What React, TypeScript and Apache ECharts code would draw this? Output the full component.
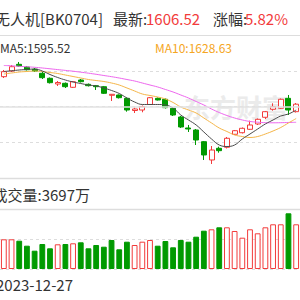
import React, { useEffect, useRef } from "react";
import * as echarts from "echarts";

const dates = ['2023-12-27','2023-12-28','2023-12-29','2024-01-02','2024-01-03','2024-01-04','2024-01-05','2024-01-08','2024-01-09','2024-01-10','2024-01-11','2024-01-12','2024-01-15','2024-01-16','2024-01-17','2024-01-18','2024-01-19','2024-01-22','2024-01-23','2024-01-24','2024-01-25','2024-01-26','2024-01-29','2024-01-30','2024-01-31','2024-02-01','2024-02-02','2024-02-05','2024-02-06','2024-02-07','2024-02-08','2024-02-19','2024-02-20','2024-02-21','2024-02-22','2024-02-23','2024-02-26','2024-02-27','2024-02-28'];

const open = [1683.4,1699.3,1718.0,1710.5,1704.1,1692.9,1678.9,1662.9,1664.9,1653.7,1674.1,1662.1,1658.2,1655.4,1631.3,1632.2,1622.9,1588.8,1590.2,1605.6,1622.9,1620.2,1595.0,1570.6,1539.9,1534.3,1501.6,1450.4,1483.1,1485.9,1522.3,1526.7,1536.2,1551.1,1569.8,1592.2,1595.0,1622.9,1585.5];
const close = [1697.4,1711.3,1713.3,1702.9,1699.3,1680.6,1666.6,1667.1,1655.4,1669.4,1669.4,1658.2,1655.4,1636.9,1634.1,1624.6,1590.2,1593.0,1599.5,1624.6,1618.2,1596.7,1576.2,1542.7,1537.1,1506.3,1464.4,1478.3,1476.4,1511.1,1532.3,1539.0,1548.3,1564.2,1585.5,1599.5,1620.2,1590.2,1606.5];
const low = [1679.7,1696.5,1710.5,1700.7,1696.5,1676.9,1664.3,1657.4,1651.8,1651.8,1667.1,1656.0,1646.2,1635.0,1615.4,1622.4,1585.5,1581.8,1583.8,1604.2,1616.8,1594.4,1573.4,1539.9,1528.7,1492.3,1450.4,1439.2,1470.8,1482.6,1520.3,1524.5,1534.3,1548.3,1565.1,1588.3,1593.0,1576.2,1583.2];
const high = [1702.1,1716.1,1724.5,1713.3,1707.7,1696.5,1681.1,1671.3,1667.1,1671.3,1676.9,1664.3,1660.2,1657.4,1635.0,1633.6,1625.2,1597.2,1602.8,1626.6,1625.2,1622.4,1597.2,1573.4,1548.3,1537.1,1503.5,1489.5,1487.6,1514.7,1534.3,1541.3,1560.3,1566.5,1587.4,1609.0,1622.4,1632.2,1609.8];

const ma5 = [1697.9,1699.9,1702.1,1703.5,1704.9,1699.3,1689.5,1681.1,1674.1,1668.5,1664.3,1660.1,1657.4,1651.8,1644.8,1636.4,1623.8,1612.6,1605.6,1605.6,1605.6,1604.2,1595.8,1576.2,1562.3,1548.3,1528.7,1509.1,1492.3,1488.1,1492.3,1509.1,1523.1,1537.1,1551.1,1562.3,1573.4,1579.0,1590.2];
const ma10 = [1690.9,1693.7,1696.5,1697.9,1699.3,1697.9,1695.1,1692.3,1688.1,1683.9,1679.7,1675.5,1672.7,1669.9,1665.7,1660.1,1651.8,1643.4,1635.0,1630.8,1626.6,1621.0,1611.2,1598.6,1590.2,1581.8,1567.8,1553.9,1539.9,1530.1,1520.3,1516.1,1513.3,1516.1,1523.1,1531.5,1541.3,1553.9,1566.4];
const ma20 = [1714.7,1713.9,1712.5,1711.1,1709.7,1707.7,1705.5,1703.2,1701.0,1698.7,1696.0,1693.2,1690.1,1686.7,1683.4,1679.7,1675.5,1671.3,1665.7,1660.1,1654.6,1647.6,1640.6,1632.2,1623.8,1614.0,1604.2,1593.0,1583.2,1574.8,1567.8,1562.3,1558.1,1556.1,1554.7,1554.4,1554.7,1555.3,1555.8];

// volume in 万
const volume = [3960,3960,3773,3107,2440,3333,2760,3293,3333,3427,3560,2760,3200,2973,3867,2627,3640,3200,3640,3867,3107,3733,2893,3867,3640,4307,5107,5293,5560,5560,5067,4173,5293,4760,5560,5960,5960,7427,5960];
const volUp = [1,1,0,0,0,0,0,1,0,1,0,0,0,0,0,0,0,1,1,1,0,0,0,0,0,0,0,1,0,1,1,1,1,1,1,1,1,0,1];

const priceTicks = { min: 1400, max: 1800, interval: 100 };
const volTicks = { min: 0, max: 8000, interval: 4000 };

const RED = "#f23b3b";
const GREEN = "#009a00";
const FONT = "Noto Sans CJK SC";

export default function App() {
  const ref = useRef<HTMLDivElement>(null);
  useEffect(() => {
    if (!ref.current) return;
    const chart = echarts.init(ref.current, undefined, { renderer: "svg" });
    const candles = dates.map((_, i) => [open[i], close[i], low[i], high[i]]);
    const vols = volume.map((v, i) => ({
      value: v,
      itemStyle: volUp[i]
        ? { color: "#ffffff", borderColor: RED, borderWidth: 1 }
        : { color: GREEN, borderColor: GREEN, borderWidth: 1 },
    }));
    const txt = (text: string, x: number, y: number, size: number, fill: string, align = "left") => ({
      type: "text",
      x,
      y,
      silent: true,
      style: { text, font: `${size}px "${FONT}"`, fill, align, verticalAlign: "middle" },
    });
    chart.setOption({
      animation: false,
      backgroundColor: "#ffffff",
      grid: [
        { left: -2.5, right: -4.1, top: 35, height: 143 },
        { left: -2.5, right: -4.1, top: 209, height: 60 },
      ],
      xAxis: [
        { type: "category", data: dates, gridIndex: 0, boundaryGap: true, axisLine: { show: false }, axisTick: { show: false }, axisLabel: { show: false }, splitLine: { show: false } },
        { type: "category", data: dates, gridIndex: 1, boundaryGap: true, axisLine: { show: false }, axisTick: { show: false }, axisLabel: { show: false }, splitLine: { show: false } },
      ],
      yAxis: [
        { type: "value", gridIndex: 0, ...priceTicks, axisLine: { show: false }, axisTick: { show: false }, axisLabel: { show: false }, splitLine: { show: true, lineStyle: { color: "#dddddd", type: [3, 3], width: 1 } } },
        { type: "value", gridIndex: 1, ...volTicks, axisLine: { show: false }, axisTick: { show: false }, axisLabel: { show: false }, splitLine: { show: true, lineStyle: { color: "#dddddd", type: [3, 3], width: 1 } } },
      ],
      graphic: [
        { type: "text", x: 184, y: 106, silent: true, z: -10, style: { text: "东方财富", font: `bold 26px "${FONT}"`, fill: "#ebebeb", align: "left", verticalAlign: "middle" } },
        txt("无人机[BK0704]", 103, 18, 15, "#333333", "right"),
        txt("最新:", 113, 18, 15, "#333333"),
        txt("1606.52", 146, 18, 15, RED),
        txt("涨幅:", 213, 18, 15, "#333333"),
        txt("5.82%", 245, 18, 15, RED),
        txt("MA5:1595.52", 0, 47, 12, "#333333"),
        txt("MA10:1628.63", 155, 47, 12, "#f5a623"),
        txt("成交量:3697万", 90, 194, 15, "#333333", "right"),
        txt("2023-12-27", 73, 284, 15, "#333333", "right"),
      ],
      series: [
        {
          type: "candlestick",
          xAxisIndex: 0,
          yAxisIndex: 0,
          data: candles,
          barWidth: 5.5,
          itemStyle: { color: "#ffffff", color0: GREEN, borderColor: RED, borderColor0: GREEN, borderWidth: 1 },
          markLine: {
            silent: true,
            symbol: "none",
            label: { show: false },
            lineStyle: { color: "#dddddd", type: "solid", width: 1 },
            data: [
              { yAxis: 1800 },
              { yAxis: 1600, lineStyle: { color: "#e2e2e2", type: "solid", width: 1.6 } },
              { yAxis: 1400, lineStyle: { color: "#dddddd", type: "solid", width: 1.4 } },
            ],
          },
          z: 3,
        },
        { type: "line", xAxisIndex: 0, yAxisIndex: 0, data: ma20, symbol: "none", smooth: 0.4, lineStyle: { color: "#ee66ee", width: 1 }, z: 4 },
        { type: "line", xAxisIndex: 0, yAxisIndex: 0, data: ma10, symbol: "none", smooth: 0.4, lineStyle: { color: "#f5b547", width: 1 }, z: 4 },
        { type: "line", xAxisIndex: 0, yAxisIndex: 0, data: ma5, symbol: "none", smooth: 0.4, lineStyle: { color: "#4a4a4a", width: 1 }, z: 4 },
        {
          type: "bar",
          xAxisIndex: 1,
          yAxisIndex: 1,
          data: vols,
          barWidth: 5.8,
          markLine: {
            silent: true,
            symbol: "none",
            label: { show: false },
            lineStyle: { color: "#dddddd", type: "solid", width: 1.4 },
            data: [{ yAxis: 8000 }],
          },
        },
      ],
    });
    return () => chart.dispose();
  }, []);
  return <div ref={ref} style={{ position: "fixed", left: 0, top: 0, width: 300, height: 300 }} />;
}
